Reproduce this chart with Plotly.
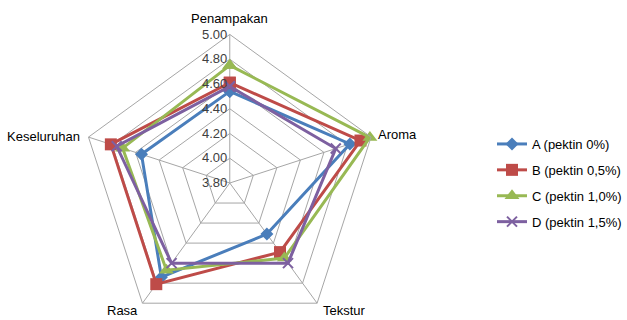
import plotly.graph_objects as go

# Sensory attributes (clockwise from the top)
attributes = ["Penampakan", "Aroma", "Tekstur", "Rasa", "Keseluruhan"]

# Mean scores per formulation
score_a = [4.54, 4.82, 4.31, 4.74, 4.55]
score_b = [4.61, 4.91, 4.49, 4.81, 4.81]
score_c = [4.75, 4.99, 4.55, 4.67, 4.71]
score_d = [4.58, 4.70, 4.60, 4.60, 4.76]

series_names = ["A (pektin 0%)", "B (pektin 0,5%)", "C (pektin 1,0%)", "D (pektin 1,5%)"]

radial_ticks = [3.80, 4.00, 4.20, 4.40, 4.60, 4.80, 5.00]

styles = [
    dict(color="#4A7EBB", symbol="diamond", size=10, lw=0),
    dict(color="#BE4B48", symbol="square", size=12, lw=0),
    dict(color="#98B954", symbol="triangle-up", size=13, lw=0),
    dict(color="#7D60A0", symbol="x-thin", size=10, lw=2),
]

W, H = 627, 333
cx, cy, R = 232, 183, 150

fig = go.Figure()
for name, vals, st in zip(series_names, [score_a, score_b, score_c, score_d], styles):
    fig.add_trace(go.Scatterpolar(
        r=vals + vals[:1],
        theta=attributes + attributes[:1],
        name=name,
        mode="lines+markers",
        line=dict(color=st["color"], width=3),
        marker=dict(symbol=st["symbol"], size=st["size"], color=st["color"],
                    line=dict(color=st["color"], width=st["lw"])),
        legendgroup=name,
    ))

# Category labels placed around the outer pentagon
label_pos = {
    "Penampakan": dict(x=232, y=18, xanchor="center"),
    "Aroma": dict(x=380, y=134, xanchor="left"),
    "Tekstur": dict(x=324, y=310, xanchor="left"),
    "Rasa": dict(x=141, y=310, xanchor="right"),
    "Keseluruhan": dict(x=83, y=137, xanchor="right"),
}
for name in attributes:
    p = label_pos[name]
    fig.add_annotation(
        text=name, xref="paper", yref="paper",
        x=p["x"] / W, y=1 - p["y"] / H,
        xanchor=p["xanchor"], yanchor="middle",
        showarrow=False, font=dict(size=13, color="#000000"),
    )

grid = "#A6A6A6"
fig.update_layout(
    width=W, height=H,
    margin=dict(l=0, r=0, t=0, b=0),
    paper_bgcolor="white",
    plot_bgcolor="white",
    font=dict(family="Liberation Sans, Arial, sans-serif", size=13, color="#000000"),
    polar=dict(
        domain=dict(x=[(cx - R) / W, (cx + R) / W], y=[(H - cy - R) / H, (H - cy + R) / H]),
        gridshape="linear",
        bgcolor="white",
        angularaxis=dict(
            type="category", rotation=90, direction="clockwise",
            showline=True, linecolor=grid, linewidth=1,
            gridcolor=grid, gridwidth=1, ticks="", showticklabels=False,
        ),
        radialaxis=dict(
            range=[3.8, 5.0], tickvals=radial_ticks, tickformat=".2f",
            angle=90, tickangle=90, side="counterclockwise",
            showline=False, ticks="", gridcolor=grid, gridwidth=1,
            tickfont=dict(size=13, color="#404040"),
        ),
    ),
    legend=dict(
        x=497 / W, xanchor="left",
        y=(H - 183) / H, yanchor="middle",
        font=dict(size=13, color="#000000"),
        traceorder="grouped", tracegroupgap=6,
        bgcolor="rgba(0,0,0,0)",
    ),
)

fig.write_html("out.html", post_script="document.documentElement.style.overflow='hidden';document.body.style.overflow='hidden';")
